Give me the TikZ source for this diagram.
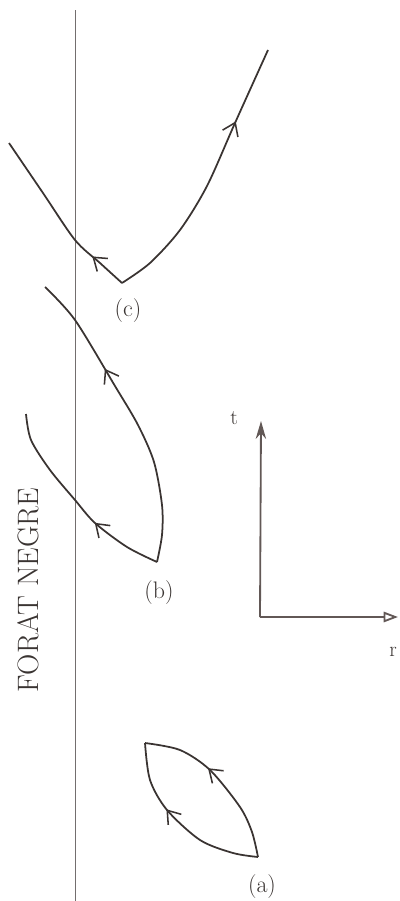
\documentclass[tikz,border=0pt]{standalone}
\usepackage{fontspec}
\usepackage{tikz}
\usetikzlibrary{arrows.meta,decorations.markings}

\definecolor{inkline}{RGB}{58,52,50}
\definecolor{axisgray}{RGB}{98,88,86}
\definecolor{holegray}{RGB}{115,110,110}

\begin{document}
\begin{tikzpicture}[x=0.025cm, y=-0.025cm, >=stealth,
  every node/.style={font=\fontsize{17}{20}\selectfont, text=inkline},
  world/.style={draw=inkline, line width=1.25pt, line join=round},
  flow/.style={postaction={decorate}, decoration={markings,
    mark=at position #1 with {\arrow{Straight Barb[length=0.3cm, width=0.42cm, line width=1.1pt]}}}}]
\useasboundingbox (0,0) rectangle (400,901);
% horizon of the hole
\coordinate (htop) at (75,10);
\coordinate (hbot) at (75,901);
\draw[holegray, line width=0.6pt] (htop) -- (hbot);
\node[rotate=90, font=\fontsize{21}{24}\selectfont\addfontfeature{LetterSpace=10}] (hole) at (28,590) {FORAT NEGRE};
% (c): pair split at the hole
\coordinate (vc) at (122,283);
\draw[world, flow=0.22] plot[smooth] coordinates {(vc) (100,263) (75,240) (43,193) (9,143)};
\draw[world, flow=0.72] plot[smooth] coordinates {(vc) (150,263) (180,230) (207,186) (235,123) (268,50)};
\node (labC) at (128,311) {(c)};
% (b): one member falls back
\coordinate (vb) at (157,562);
\draw[world, flow=0.67] plot[smooth] coordinates {(vb) (162,535) (162,505) (154,462) (138,425) (115,386) (75,320) (45,287)};
\draw[world, flow=0.36] plot[smooth] coordinates {(vb) (127,547) (95,523) (75,500) (50,470) (31,440) (26,414)};
\node (labB) at (159,593) {(b)};
% (a): pair created and annihilated
\coordinate (va) at (258,857);
\coordinate (wa) at (145,743);
\draw[world, flow=0.6] plot[smooth] coordinates {(va) (252,832) (240,807) (210,770) (180,750) (wa)};
\draw[world, flow=0.6] plot[smooth] coordinates {(va) (233,853) (200,840) (167,810) (150,780) (wa)};
\node (labA) at (262,887) {(a)};
% axes
\coordinate (orig) at (260,617);
\coordinate (tend) at (261,421);
\coordinate (rend) at (398,617);
\draw[axisgray, line width=1.3pt, -{Stealth[length=0.45cm, width=0.26cm]}] (orig) -- (tend);
\draw[axisgray, line width=1.3pt, -{Triangle[open, length=0.36cm, width=0.26cm]}] (orig) -- (rend);
\node[font=\fontsize{15}{18}\selectfont] (labT) at (234,418) {t};
\node[font=\fontsize{15}{18}\selectfont] (labR) at (393,652) {r};
\end{tikzpicture}
\end{document}
